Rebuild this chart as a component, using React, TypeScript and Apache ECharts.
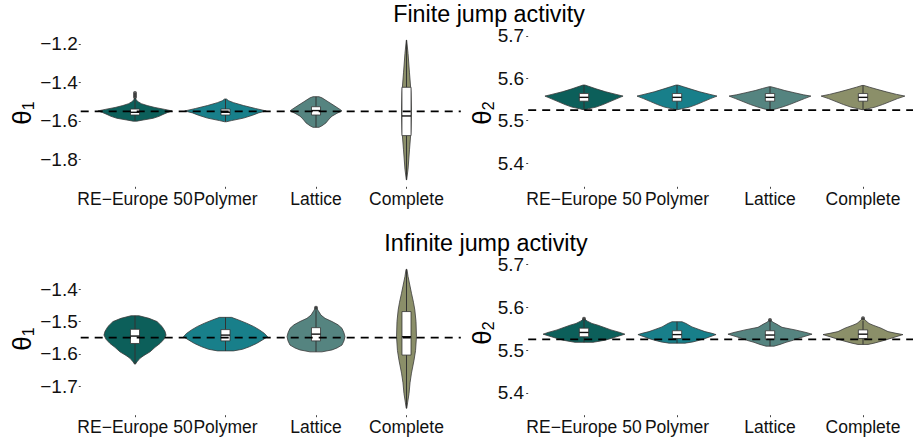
import React, { useEffect, useRef } from 'react';
import * as echarts from 'echarts';

// ---------------- data ----------------
const CATEGORIES = ['RE\u2212Europe 50', 'Polymer', 'Lattice', 'Complete'];
const COLORS = ['#0c5f5a', '#187f8a', '#558480', '#8b8f69'];

const TRUE_THETA1 = -1.55;
const TRUE_THETA2 = 5.525;

const TICKS_FIN_T1 = [-1.8, -1.6, -1.4, -1.2];
const TICKS_FIN_T2 = [5.4, 5.5, 5.6, 5.7];
const TICKS_INF_T1 = [-1.7, -1.6, -1.5, -1.4];
const TICKS_INF_T2 = [5.4, 5.5, 5.6, 5.7];

// violin profiles: [value, half-width as a fraction of the category band]
// Finite jump activity, theta1
const FIN_T1_RE = [[-1.48, 0.005], [-1.49, 0.012], [-1.5, 0.035], [-1.51, 0.07], [-1.52, 0.135], [-1.53, 0.22], [-1.54, 0.33], [-1.548, 0.41], [-1.556, 0.36], [-1.566, 0.31], [-1.576, 0.265], [-1.586, 0.2], [-1.595, 0.09], [-1.601, 0.02]];
const FIN_T1_POLY = [[-1.486, 0.01], [-1.495, 0.035], [-1.505, 0.09], [-1.52, 0.2], [-1.535, 0.33], [-1.548, 0.45], [-1.558, 0.365], [-1.57, 0.3], [-1.585, 0.2], [-1.598, 0.066], [-1.604, 0.01]];
const FIN_T1_LAT = [[-1.474, 0.033], [-1.48, 0.066], [-1.49, 0.1], [-1.5, 0.133], [-1.52, 0.2], [-1.54, 0.265], [-1.548, 0.287], [-1.56, 0.232], [-1.575, 0.177], [-1.59, 0.144], [-1.61, 0.11], [-1.625, 0.066], [-1.633, 0.033]];
const FIN_T1_COMP = [[-1.18, 0.002], [-1.25, 0.017], [-1.35, 0.033], [-1.45, 0.05], [-1.55, 0.055], [-1.65, 0.05], [-1.75, 0.033], [-1.85, 0.017], [-1.906, 0.002]];
// [lower whisker, q1, median, q3, upper whisker]
const FIN_T1_BOX = [[-1.6, -1.569, -1.555, -1.538, -1.49], [-1.604, -1.569, -1.555, -1.538, -1.486], [-1.633, -1.569, -1.546, -1.526, -1.474], [-1.906, -1.676, -1.574, -1.425, -1.18]];
const FIN_T1_OUT = [[0, -1.455], [0, -1.465], [0, -1.475]];

// Finite jump activity, theta2
const FIN_T2_RE = [[5.584, 0.01], [5.58, 0.065], [5.575, 0.13], [5.568, 0.235], [5.562, 0.345], [5.558, 0.42], [5.552, 0.355], [5.545, 0.28], [5.538, 0.205], [5.532, 0.13], [5.528, 0.045], [5.526, 0.01]];
const FIN_T2_POLY = [[5.584, 0.01], [5.58, 0.07], [5.575, 0.14], [5.568, 0.245], [5.562, 0.355], [5.558, 0.43], [5.552, 0.36], [5.545, 0.285], [5.538, 0.21], [5.532, 0.135], [5.528, 0.05], [5.526, 0.01]];
const FIN_T2_LAT = [[5.58, 0.01], [5.576, 0.08], [5.571, 0.16], [5.566, 0.26], [5.561, 0.36], [5.558, 0.44], [5.552, 0.37], [5.545, 0.29], [5.538, 0.21], [5.532, 0.13], [5.527, 0.05], [5.525, 0.01]];
const FIN_T2_COMP = [[5.583, 0.01], [5.579, 0.07], [5.574, 0.15], [5.568, 0.25], [5.562, 0.36], [5.558, 0.45], [5.552, 0.37], [5.545, 0.29], [5.538, 0.21], [5.532, 0.13], [5.528, 0.05], [5.526, 0.01]];
const FIN_T2_BOX = [[5.526, 5.546, 5.555, 5.564, 5.584], [5.526, 5.546, 5.555, 5.564, 5.584], [5.525, 5.546, 5.555, 5.564, 5.58], [5.526, 5.546, 5.555, 5.564, 5.583]];
const FIN_T2_OUT: number[][] = [];

// Infinite jump activity, theta1
const INF_T1_RE = [[-1.482, 0.044], [-1.49, 0.155], [-1.5, 0.243], [-1.515, 0.298], [-1.53, 0.331], [-1.542, 0.343], [-1.555, 0.32], [-1.568, 0.276], [-1.58, 0.221], [-1.594, 0.166], [-1.605, 0.1], [-1.614, 0.055], [-1.625, 0.022], [-1.632, 0.005]];
const INF_T1_POLY = [[-1.487, 0.066], [-1.495, 0.144], [-1.505, 0.232], [-1.515, 0.309], [-1.526, 0.376], [-1.537, 0.431], [-1.547, 0.464], [-1.557, 0.409], [-1.568, 0.343], [-1.578, 0.265], [-1.586, 0.188], [-1.591, 0.088]];
const INF_T1_LAT = [[-1.456, 0.005], [-1.465, 0.022], [-1.48, 0.055], [-1.49, 0.1], [-1.5, 0.177], [-1.51, 0.243], [-1.521, 0.287], [-1.535, 0.309], [-1.547, 0.32], [-1.56, 0.309], [-1.573, 0.287], [-1.582, 0.232], [-1.588, 0.177], [-1.594, 0.066]];
const INF_T1_COMP = [[-1.338, 0.005], [-1.36, 0.017], [-1.39, 0.039], [-1.412, 0.055], [-1.44, 0.077], [-1.464, 0.092], [-1.5, 0.105], [-1.547, 0.11], [-1.59, 0.1], [-1.62, 0.083], [-1.66, 0.055], [-1.69, 0.039], [-1.723, 0.028], [-1.75, 0.013], [-1.769, 0.003]];
const INF_T1_BOX = [[-1.632, -1.568, -1.545, -1.524, -1.482], [-1.591, -1.56, -1.542, -1.525, -1.487], [-1.594, -1.56, -1.539, -1.519, -1.465], [-1.769, -1.604, -1.547, -1.469, -1.338]];
const INF_T1_OUT = [[2, -1.457]];

// Infinite jump activity, theta2
const INF_T2_RE = [[5.573, 0.005], [5.568, 0.032], [5.562, 0.086], [5.558, 0.15], [5.552, 0.226], [5.547, 0.29], [5.541, 0.387], [5.537, 0.44], [5.532, 0.366], [5.527, 0.29], [5.523, 0.226], [5.52, 0.15], [5.518, 0.097]];
const INF_T2_POLY = [[5.566, 0.054], [5.562, 0.097], [5.558, 0.129], [5.554, 0.161], [5.548, 0.237], [5.543, 0.301], [5.539, 0.376], [5.536, 0.42], [5.531, 0.355], [5.526, 0.29], [5.522, 0.226], [5.519, 0.172], [5.516, 0.086]];
const INF_T2_LAT = [[5.57, 0.005], [5.565, 0.032], [5.56, 0.075], [5.553, 0.129], [5.547, 0.269], [5.541, 0.387], [5.537, 0.452], [5.532, 0.376], [5.527, 0.301], [5.522, 0.237], [5.518, 0.172], [5.513, 0.108], [5.509, 0.043]];
const INF_T2_COMP = [[5.574, 0.005], [5.568, 0.032], [5.562, 0.065], [5.558, 0.108], [5.551, 0.194], [5.543, 0.269], [5.539, 0.355], [5.536, 0.43], [5.531, 0.355], [5.526, 0.28], [5.521, 0.204], [5.516, 0.118], [5.513, 0.054]];
const INF_T2_BOX = [[5.518, 5.531, 5.541, 5.551, 5.568], [5.516, 5.527, 5.536, 5.545, 5.566], [5.509, 5.525, 5.535, 5.545, 5.566], [5.513, 5.527, 5.537, 5.547, 5.568]];
const INF_T2_OUT = [[0, 5.573], [2, 5.57], [3, 5.574]];

// ---------------- layout ----------------
const FONT = 'Liberation Sans, Arial, Helvetica, sans-serif';
const BOX_FRAC = 0.1;
const EXPAND = 0.6;

const PANELS = [
  { grid: { left: 89.75, top: 33, width: 362, height: 153.8 }, min: -1.942, max: -1.143, ticks: TICKS_FIN_T1,
    profiles: [FIN_T1_RE, FIN_T1_POLY, FIN_T1_LAT, FIN_T1_COMP], boxes: FIN_T1_BOX, outliers: FIN_T1_OUT, truth: TRUE_THETA1, offset: 9, margin: 3 },
  { grid: { left: 537.5, top: 33, width: 372, height: 153.8 }, min: 5.344, max: 5.7068, ticks: TICKS_FIN_T2,
    profiles: [FIN_T2_RE, FIN_T2_POLY, FIN_T2_LAT, FIN_T2_COMP], boxes: FIN_T2_BOX, outliers: FIN_T2_OUT, truth: TRUE_THETA2, offset: 9.3, margin: 4 },
  { grid: { left: 89.75, top: 262.4, width: 362, height: 152.8 }, min: -1.7906, max: -1.3164, ticks: TICKS_INF_T1,
    profiles: [INF_T1_RE, INF_T1_POLY, INF_T1_LAT, INF_T1_COMP], boxes: INF_T1_BOX, outliers: INF_T1_OUT, truth: TRUE_THETA1, offset: 9, margin: 3 },
  { grid: { left: 537.5, top: 262.4, width: 372, height: 152.8 }, min: 5.3477, max: 5.7047, ticks: TICKS_INF_T2,
    profiles: [INF_T2_RE, INF_T2_POLY, INF_T2_LAT, INF_T2_COMP], boxes: INF_T2_BOX, outliers: INF_T2_OUT, truth: TRUE_THETA2, offset: 9.3, margin: 4 },
];

function fmt(v: number) {
  return (v < 0 ? '\u2212' : '') + Math.abs(v).toFixed(1);
}

function buildOption() {
  const grid: any[] = [];
  const xAxis: any[] = [];
  const yAxis: any[] = [];
  const series: any[] = [];

  PANELS.forEach((p, k) => {
    grid.push({ ...p.grid, containLabel: false, outerBoundsMode: 'none' });
    xAxis.push({
      type: 'category', gridIndex: k, data: CATEGORIES, boundaryGap: true,
      axisLine: { show: false },
      axisTick: { show: true, alignWithLabel: true, length: 2, lineStyle: { color: '#444', width: 1 } },
      axisLabel: { interval: 0, margin: 3, fontSize: 17.5, color: '#111', fontFamily: FONT, hideOverlap: false },
      splitLine: { show: false },
    });
    yAxis.push({
      type: 'value', gridIndex: k, min: p.min, max: p.max, offset: p.offset,
      axisLine: { show: false },
      splitLine: { show: false },
      axisTick: { show: true, length: 2, customValues: p.ticks, lineStyle: { color: '#444', width: 1 } },
      axisLabel: { customValues: p.ticks, margin: p.margin, fontSize: 19, color: '#111', fontFamily: FONT, formatter: (v: number) => fmt(v) },
    });

    series.push({
      type: 'custom', xAxisIndex: k, yAxisIndex: k, clip: false, z: 2,
      data: p.boxes.map((b, i) => [i, b[2]]),
      encode: { x: 0, y: 1 },
      renderItem: (params: any, api: any) => {
        const i = params.dataIndex;
        const prof = p.profiles[i];
        const b = p.boxes[i];
        const band = api.size([1, 0])[0];
        const cx = api.coord([i, b[2]])[0];
        const yy = (v: number) => api.coord([i, v])[1];
        const right = prof.map(([v, w]) => [cx + w * band, yy(v)]);
        const left = prof.slice().reverse().map(([v, w]) => [cx - w * band, yy(v)]);
        const bw = (BOX_FRAC * band) / 2;
        return {
          type: 'group',
          children: [
            { type: 'polygon', shape: { points: right.concat(left) }, style: { fill: COLORS[i], stroke: '#3a3a3a', lineWidth: 0.8 } },
            { type: 'line', shape: { x1: cx, y1: yy(b[0]), x2: cx, y2: yy(b[4]) }, style: { stroke: '#333', lineWidth: 1 } },
            { type: 'rect', shape: { x: cx - bw, y: yy(b[3]), width: 2 * bw, height: yy(b[1]) - yy(b[3]) }, style: { fill: '#fff', stroke: '#333', lineWidth: 0.8 } },
            { type: 'line', shape: { x1: cx - bw, y1: yy(b[2]), x2: cx + bw, y2: yy(b[2]) }, style: { stroke: '#111', lineWidth: 1.4 } },
          ],
        };
      },
    });

    if (p.outliers.length) {
      series.push({
        type: 'scatter', xAxisIndex: k, yAxisIndex: k, z: 3, symbol: 'circle', symbolSize: 4,
        itemStyle: { color: '#333' }, data: p.outliers,
      });
    }

    series.push({
      type: 'custom', xAxisIndex: k, yAxisIndex: k, clip: false, z: 4,
      data: [[0, p.truth]],
      encode: { x: 0, y: 1 },
      renderItem: (params: any, api: any) => {
        const band = api.size([1, 0])[0];
        const y = api.coord([0, p.truth])[1];
        const x0 = api.coord([0, p.truth])[0] - EXPAND * band;
        const x1 = api.coord([CATEGORIES.length - 1, p.truth])[0] + EXPAND * band;
        return { type: 'line', shape: { x1: x0, y1: y, x2: x1, y2: y }, style: { stroke: '#000', lineWidth: 1.8, lineDash: [8, 6] } };
      },
    });
  });

  const thetaLabel = (x: number, y: number, sub: string) => ({
    type: 'text', x, y, rotation: Math.PI / 2,
    style: {
      text: '{t|\u03b8}{s|' + sub + '}', align: 'center', verticalAlign: 'middle', fill: '#000', fontFamily: FONT,
      rich: {
        t: { fontSize: 26, fontFamily: FONT, fill: '#000', lineHeight: 28 },
        s: { fontSize: 16, fontFamily: FONT, fill: '#000', verticalAlign: 'bottom', lineHeight: 28 },
      },
    },
  });

  const graphic = [
    { type: 'text', x: 489, y: 14, style: { text: 'Finite jump activity', fontSize: 23.3, fontFamily: FONT, fill: '#000', align: 'center', verticalAlign: 'middle' } },
    { type: 'text', x: 486, y: 243, style: { text: 'Infinite jump activity', fontSize: 23.3, fontFamily: FONT, fill: '#000', align: 'center', verticalAlign: 'middle' } },
    thetaLabel(22, 113, '1'),
    thetaLabel(482, 113, '2'),
    thetaLabel(22, 339, '1'),
    thetaLabel(482, 333, '2'),
  ];

  return { animation: false, backgroundColor: '#fff', grid, xAxis, yAxis, series, graphic };
}

export default function App() {
  const ref = useRef<HTMLDivElement>(null);
  useEffect(() => {
    if (!ref.current) return;
    const chart = echarts.init(ref.current, undefined, { renderer: 'svg' });
    chart.setOption(buildOption() as any);
    return () => chart.dispose();
  }, []);
  return <div ref={ref} style={{ position: 'fixed', left: 0, top: 0, width: 913, height: 441, background: '#fff' }} />;
}
